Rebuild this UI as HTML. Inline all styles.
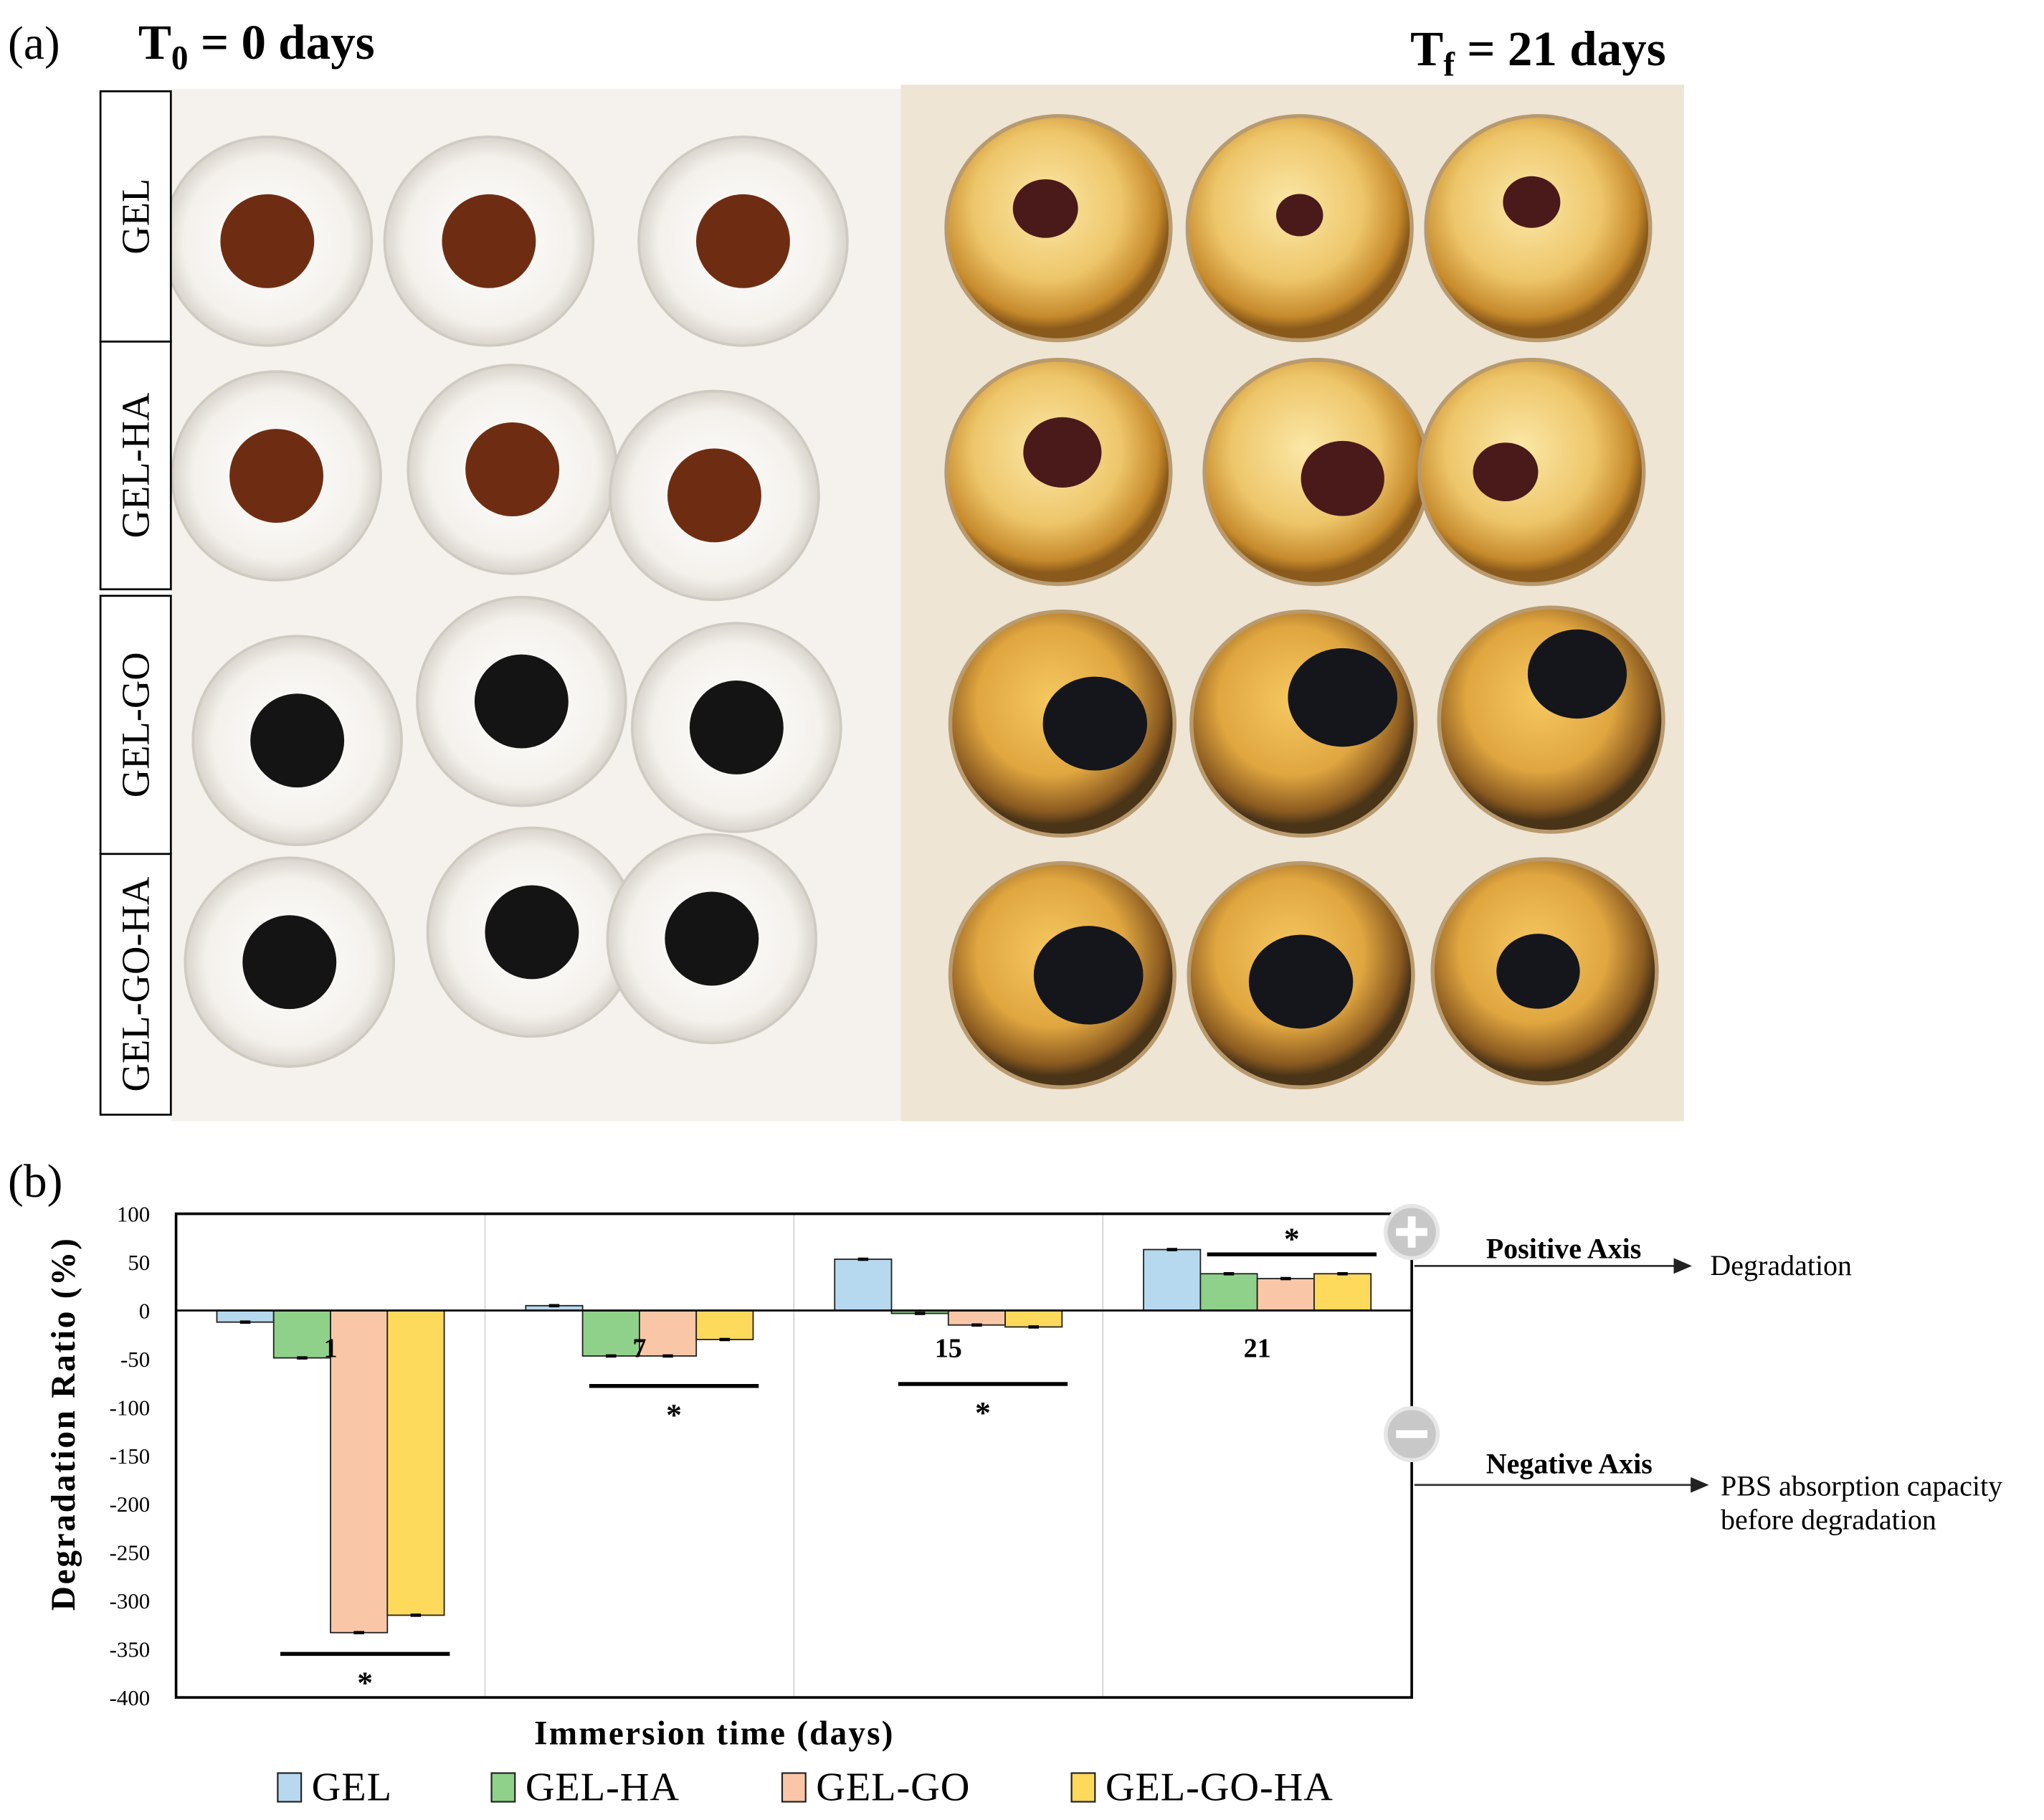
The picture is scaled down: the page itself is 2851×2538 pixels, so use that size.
<!DOCTYPE html>
<html><head><meta charset="utf-8"><style>
html,body{margin:0;padding:0;background:#fff;}
svg{display:block;}
text{font-family:"Liberation Serif",serif;}
</style></head><body>
<svg id="fig" width="2851" height="2538" viewBox="0 0 1568 1396" xmlns="http://www.w3.org/2000/svg">
<defs>
<radialGradient id="wellL" cx="50%" cy="50%" r="50%"><stop offset="0" stop-color="#ffffff"/><stop offset="0.8" stop-color="#f4f1ec"/><stop offset="1" stop-color="#d9d4cc"/></radialGradient>
<radialGradient id="wellR" cx="45%" cy="40%" r="55%"><stop offset="0" stop-color="#fbe8a8"/><stop offset="0.6" stop-color="#eec66a"/><stop offset="0.9" stop-color="#c68a2c"/><stop offset="1" stop-color="#8a5a1c"/></radialGradient>
<radialGradient id="wellR2" cx="45%" cy="40%" r="55%"><stop offset="0" stop-color="#f6c860"/><stop offset="0.6" stop-color="#e0a640"/><stop offset="0.9" stop-color="#8a5a20"/><stop offset="1" stop-color="#4a3418"/></radialGradient>
</defs>
<g id="photo">
<rect x="131" y="68" width="560" height="792" fill="#f5f1ec"/>
<rect x="691" y="65" width="601" height="795" fill="#eee5d4"/>
<g id="wells"></g>
</g>
<g>
<rect x="77" y="70" width="54" height="192" fill="#fff" stroke="#000" stroke-width="1.5"/>
<rect x="77" y="262" width="54" height="190" fill="#fff" stroke="#000" stroke-width="1.5"/>
<rect x="77" y="457" width="54" height="198" fill="#fff" stroke="#000" stroke-width="1.5"/>
<rect x="77" y="655" width="54" height="200" fill="#fff" stroke="#000" stroke-width="1.5"/>
<text transform="translate(114,166) rotate(-90)" text-anchor="middle" font-size="30">GEL</text>
<text transform="translate(114,357) rotate(-90)" text-anchor="middle" font-size="30">GEL-HA</text>
<text transform="translate(114,556) rotate(-90)" text-anchor="middle" font-size="30">GEL-GO</text>
<text transform="translate(114,755) rotate(-90)" text-anchor="middle" font-size="30">GEL-GO-HA</text>
</g>
<text x="6" y="45" font-size="36">(a)</text>
<text x="106" y="45" font-size="38" font-weight="bold">T<tspan font-size="26" dy="8">0</tspan><tspan dy="-8"> = 0 days</tspan></text>
<text x="1278" y="50" font-size="38" font-weight="bold" text-anchor="end">T<tspan font-size="26" dy="8">f</tspan><tspan dy="-8"> = 21 days</tspan></text>
<text x="6" y="918" font-size="36">(b)</text>
<g id="chart"></g>
<g>
<circle cx="1083" cy="945" r="20" fill="#c8c8c8" stroke="#e6e6e6" stroke-width="3"/>
<rect x="1071" y="942" width="24" height="6" fill="#fff"/><rect x="1080" y="933" width="6" height="24" fill="#fff"/>
<circle cx="1083" cy="1100" r="20" fill="#c8c8c8" stroke="#e6e6e6" stroke-width="3"/>
<rect x="1071" y="1097" width="24" height="6" fill="#fff"/>
<line x1="1085" y1="971" x2="1285" y2="971" stroke="#333" stroke-width="1.5"/><polygon points="1298,971 1284,965 1284,977" fill="#222"/>
<line x1="1085" y1="1139" x2="1298" y2="1139" stroke="#333" stroke-width="1.5"/><polygon points="1311,1139 1297,1133 1297,1145" fill="#222"/>
<text x="1140" y="965" font-size="22" font-weight="bold">Positive Axis</text>
<text x="1312" y="978" font-size="22">Degradation</text>
<text x="1140" y="1130" font-size="22" font-weight="bold">Negative Axis</text>
<text x="1320" y="1147" font-size="22">PBS absorption capacity</text>
<text x="1320" y="1173" font-size="22">before degradation</text>
</g>
</svg>
<script>
const categories = ["1","7","15","21"];
const seriesNames = ["GEL","GEL-HA","GEL-GO","GEL-GO-HA"];
const gelVals = [-12, 5, 53, 63];
const gelHaVals = [-49, -47, -3, 38];
const gelGoVals = [-333, -47, -15, 33];
const gelGoHaVals = [-315, -30, -17, 38];
const yTicks = [100,50,0,-50,-100,-150,-200,-250,-300,-350,-400];
const sigLevels = [-355, -78, -76, 58];

const NS = "http://www.w3.org/2000/svg";
const colors = ["#b7d9ef","#8fd18a","#f9c7a8","#fdd95c"];
const series = [gelVals, gelHaVals, gelGoVals, gelGoHaVals];
const L = 135, R = 1083, T = 931, B = 1302, yMax = 100, yMin = -400;
const y = v => T + (yMax - v) / (yMax - yMin) * (B - T);
const gw = (R - L) / categories.length;
const bw = gw * 0.184, off = (gw - 4 * bw) / 2;
const x = (c, s) => L + c * gw + off + s * bw;
function mk(tag, attrs, parent) { const e = document.createElementNS(NS, tag); for (const k in attrs) e.setAttribute(k, attrs[k]); parent.appendChild(e); return e; }
const chart = document.getElementById("chart");

for (let c = 1; c < categories.length; c++) {
  const g = mk("line", {x1: L + c * gw, x2: L + c * gw, y1: T, y2: B, stroke: "#d4d4d4", "stroke-width": 1}, chart);
  
  
}
yTicks.forEach(t => {
  const tx = mk("text", {x: L - 20, y: y(t) + 6, "text-anchor": "end", "font-size": 17}, chart);
  tx.textContent = t;
  
  
});
series.forEach((vals, s) => {
  vals.forEach((v, c) => {
    const top = Math.min(y(v), y(0)), h = Math.abs(y(v) - y(0));
    const r = mk("rect", {x: x(c, s), y: top, width: bw, height: h, fill: colors[s], stroke: "#222", "stroke-width": 1}, chart);
    
    
    const ex = x(c, s) + bw / 2;
    const eb = mk("line", {x1: ex - 4, x2: ex + 4, y1: y(v), y2: y(v), stroke: "#000", "stroke-width": 2.5}, chart);
    
    
  });
});
const fr = mk("rect", {x: L, y: T, width: R - L, height: B - T, fill: "none", stroke: "#000", "stroke-width": 2}, chart);


const zl = mk("line", {x1: L, x2: R, y1: y(0), y2: y(0), stroke: "#000", "stroke-width": 1.5}, chart);


categories.forEach((cat, c) => {
  const t = mk("text", {x: L + c * gw + gw / 2, y: 1041, "text-anchor": "middle", "font-size": 21, "font-weight": "bold", "font-family": "Liberation Sans, sans-serif"}, chart);
  t.textContent = cat;
  
  
  const lv = sigLevels[c];
  const above = lv > 0;
  const ln = mk("line", {x1: L + c * gw + 80, x2: L + c * gw + 210, y1: y(lv), y2: y(lv), stroke: "#000", "stroke-width": 3}, chart);
  
  
  const st = mk("text", {x: L + c * gw + 145, y: above ? y(lv) - 4 : y(lv) + 30, "text-anchor": "middle", "font-size": 24, "font-weight": "bold", "font-family": "Liberation Sans, sans-serif"}, chart);
  st.textContent = "*";
  
  
});
const yt = mk("text", {transform: "translate(57,1092) rotate(-90)", "text-anchor": "middle", "font-size": 26, "font-weight": "bold", "letter-spacing": "1.5"}, chart);
yt.textContent = "Degradation Ratio (%)";


const xt = mk("text", {x: 548, y: 1338, "text-anchor": "middle", "font-size": 26, "font-weight": "bold", "letter-spacing": "1.2"}, chart);
xt.textContent = "Immersion time (days)";


const legX = [213, 377, 600, 822];
seriesNames.forEach((n, i) => {
  const sw = mk("rect", {x: legX[i], y: 1360, width: 18, height: 22, fill: colors[i], stroke: "#222", "stroke-width": 1.2}, chart);
  
  
  const lt = mk("text", {x: legX[i] + 26, y: 1381, "font-size": 31, "letter-spacing": "0.5"}, chart);
  lt.textContent = n;
  
  
});

// photo wells
const wells = document.getElementById("wells");
const leftCenters = [[205,185],[375,185],[570,185],[212,365],[393,360],[548,380],[228,568],[400,538],[565,558],[222,738],[408,715],[546,720]];
leftCenters.forEach((p, i) => {
  const w = mk("circle", {cx: p[0], cy: p[1], r: 80, fill: "url(#wellL)", stroke: "#cfcac2", "stroke-width": 2}, wells);
  
  
  const d = mk("circle", {cx: p[0], cy: p[1], r: 36, fill: i < 6 ? "#6e2d12" : "#141414"}, wells);
  
  
});
const rightCenters = [[812,175],[997,175],[1180,175],[812,362],[1010,362],[1175,362],[815,555],[1000,555],[1190,552],[815,748],[998,748],[1185,745]];
const blobs = [[-10,-15,25],[0,-10,18],[-5,-20,22],[3,-15,30],[20,5,32],[-20,0,25],[25,0,40],[30,-20,42],[20,-35,38],[20,0,42],[0,5,40],[-5,0,32]];
rightCenters.forEach((p, i) => {
  const w = mk("circle", {cx: p[0], cy: p[1], r: 86, fill: "url(#" + (i < 6 ? "wellR" : "wellR2") + ")", stroke: "#b89a6e", "stroke-width": 3}, wells);
  
  
  const b = blobs[i];
  const d = mk("ellipse", {cx: p[0] + b[0], cy: p[1] + b[1], rx: b[2], ry: b[2] * 0.9, fill: i < 6 ? "#4a1a1a" : "#15151c"}, wells);
  
  
});
</script>
</body></html>
